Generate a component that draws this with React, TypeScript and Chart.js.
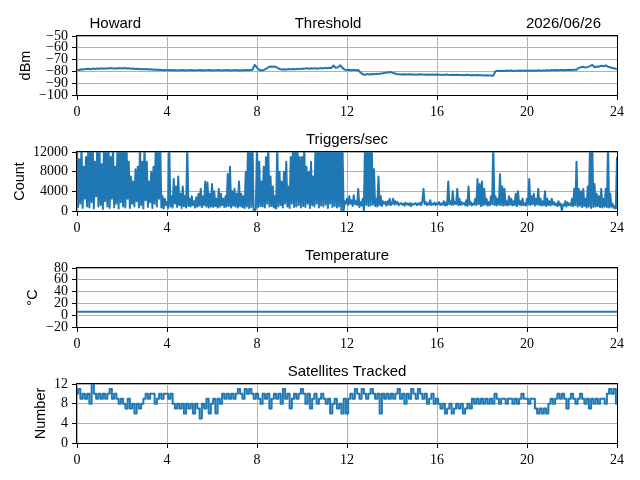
import { useEffect, useRef } from "react";
import { Chart, registerables, type ChartConfiguration, type Plugin } from "chart.js";

Chart.register(...registerables);

// hours of the day on every x axis
const HOURS = 24;
const hourStep = 4;

// Threshold, dBm, one value every 0.1 h
const thresholdDbm = [
  -78.5, -78.8, -78.2, -78.4, -78.0, -77.8, -78.1, -77.6, -77.9, -77.5,
  -77.7, -77.4, -77.8, -77.3, -77.6, -77.2, -77.5, -77.3, -77.6, -77.2,
  -77.5, -77.1, -77.6, -77.4, -77.8, -77.5, -77.9, -77.7, -78.1, -77.9,
  -78.2, -78.0, -78.4, -78.2, -78.6, -78.4, -78.8, -78.6, -79.0, -78.8,
  -79.0, -78.8, -79.1, -78.9, -79.2, -79.0, -79.1, -78.9, -79.2, -79.0,
  -79.1, -78.9, -79.2, -79.0, -79.1, -78.9, -79.2, -79.0, -79.1, -78.9,
  -79.2, -79.0, -79.1, -78.8, -79.2, -79.0, -79.1, -78.9, -79.2, -79.0,
  -79.1, -78.9, -79.2, -79.0, -79.1, -78.9, -79.0, -78.8, -78.6, -74.5,
  -76.8, -78.6, -79.2, -78.8, -77.8, -76.5, -75.8, -76.0, -75.9, -76.8,
  -78.0, -78.4, -78.2, -78.5, -78.0, -78.3, -77.9, -78.2, -77.8, -78.1,
  -77.5, -77.9, -77.2, -77.8, -77.4, -77.6, -77.3, -77.7, -77.2, -77.5,
  -77.0, -77.4, -76.9, -77.2, -75.0, -77.0, -76.5, -74.8, -77.0, -78.5,
  -78.8, -78.6, -79.0, -78.7, -79.0, -78.8, -81.0, -82.5, -82.8, -82.3,
  -82.6, -82.2, -82.5, -82.0, -82.3, -81.8, -81.6, -81.2, -81.0, -80.5,
  -81.0, -81.6, -82.2, -82.4, -82.6, -82.5, -82.7, -82.6, -82.5, -82.7,
  -82.6, -82.8, -82.5, -82.7, -82.6, -82.8, -82.7, -82.9, -82.6, -82.8,
  -82.7, -82.9, -82.8, -83.0, -82.7, -82.9, -83.0, -82.8, -83.1, -82.9,
  -83.1, -83.0, -83.2, -82.9, -83.1, -83.3, -83.0, -83.2, -83.1, -83.3,
  -83.2, -83.4, -83.3, -83.5, -83.4, -83.6, -79.8, -79.5, -79.7, -79.4,
  -79.6, -79.3, -79.5, -79.2, -79.6, -79.4, -79.5, -79.2, -79.5, -79.3,
  -79.4, -79.2, -79.5, -79.3, -79.4, -79.1, -79.4, -79.2, -79.3, -79.0,
  -79.2, -78.9, -79.1, -78.8, -79.0, -78.7, -79.0, -78.8, -78.9, -78.6,
  -78.8, -78.5, -78.7, -77.0, -76.5, -76.0, -76.8, -76.2, -75.5, -74.5,
  -76.5, -75.8, -76.0, -75.2, -75.6, -75.0, -76.0, -76.5, -77.2, -77.6,
  -78.0,
];

// Triggers per second, one value every 0.05 h (peaks run past the top of the axis)
const triggerCounts = [
  13500, 800, 10500, 1500, 13500, 600, 9000, 2500, 11000, 900, 13500, 700, 13500, 1800, 13500, 500, 10000, 3000, 13500, 900,
  13500, 1200, 9500, 400, 13500, 2000, 13500, 900, 13500, 600, 11000, 2500, 13500, 700, 9000, 1500, 13500, 500, 13500, 1800,
  13500, 900, 13500, 700, 13500, 2500, 10000, 600, 7000, 1500, 6000, 900, 8500, 2000, 9000, 700, 13500, 1200, 10000, 500,
  13500, 2200, 10000, 800, 6000, 1800, 8000, 600, 9000, 1500, 13500, 900, 13500, 2500, 13500, 700, 3000, 500, 2500, 1200,
  1800, 600, 13500, 900, 3000, 700, 6500, 1500, 5000, 800, 7000, 1200, 3500, 600, 5000, 1000, 3000, 700, 13500, 1000,
  2500, 900, 3000, 1200, 2000, 700, 2800, 900, 3500, 1100, 4500, 800, 3000, 1200, 6000, 900, 5800, 700, 3500, 900,
  5500, 800, 4000, 1000, 2500, 700, 4500, 900, 3500, 1200, 2500, 800, 3000, 900, 7500, 1000, 9000, 700, 4000, 1100,
  4500, 900, 3500, 700, 6000, 1000, 3500, 800, 3000, 600, 8000, 900, 13500, 600, 13500, 800, 13500, 200, 0, 600,
  13500, 800, 10000, 1000, 6000, 900, 9000, 700, 11000, 1500, 13500, 900, 7000, 1000, 5000, 700, 3000, 500, 13500, 900,
  8000, 1200, 6000, 700, 8000, 1500, 10000, 900, 5000, 600, 11000, 1500, 13500, 800, 13500, 900, 13500, 1200, 11000, 700,
  11000, 1000, 13500, 800, 9000, 1500, 8000, 600, 10000, 1200, 7000, 900, 13500, 1500, 13500, 700, 13500, 1100, 13500, 900,
  13500, 1300, 13500, 600, 13500, 1500, 13500, 800, 13500, 1000, 13500, 700, 13500, 900, 13500, 0, 13500, 0, 2000, 1500,
  2500, 1200, 3000, 1500, 2200, 1000, 3200, 1400, 2000, 1200, 4500, 800, 1800, 1100, 2500, 0, 13500, 1200, 13500, 1000,
  13500, 1100, 13500, 1300, 8500, 1000, 2500, 900, 7000, 1200, 3000, 1000, 2000, 1500, 1800, 1100, 2000, 1300, 2500, 1200,
  1500, 2500, 1300, 2000, 1400, 1800, 1200, 1500, 1600, 1300, 1500, 1100, 1700, 1300, 1500, 1200, 1600, 1000, 1500, 1300,
  1400, 1600, 1200, 1500, 1300, 1700, 1200, 2000, 4500, 1400, 1800, 1200, 1600, 1300, 2200, 1200, 1500, 1300, 1700, 1200,
  1600, 1400, 1800, 1200, 1500, 1300, 2000, 1100, 1700, 1200, 6000, 1400, 2000, 1200, 4000, 1300, 1800, 1400, 4500, 1200,
  2500, 1200, 1800, 1400, 1600, 1200, 2200, 1000, 5000, 1300, 1800, 1100, 1500, 1300, 2500, 1200, 6500, 1400, 5500, 1000,
  6000, 1200, 4500, 1300, 2500, 1100, 1800, 1200, 3000, 1400, 13500, 1200, 3000, 1100, 2500, 1300, 7500, 1200, 5000, 1100,
  4500, 1200, 2000, 1100, 3000, 1300, 2500, 1100, 2000, 1200, 3500, 1000, 4000, 1300, 2000, 1100, 2500, 1200, 1500, 1100,
  2500, 1300, 6500, 1200, 3000, 1400, 3500, 1100, 2500, 1300, 4500, 1200, 2500, 1100, 2000, 1200, 4000, 1000, 2500, 1200,
  2000, 1100, 2500, 1300, 1800, 1200, 1500, 1000, 2000, 1100, 1500, 0, 1300, 1100, 2000, 900, 1800, 1200, 1500, 1100,
  2500, 1000, 4500, 1200, 10000, 900, 4500, 1100, 4000, 800, 4500, 1000, 2500, 700, 5000, 900, 13500, 600, 13500, 800,
  5500, 900, 3500, 1000, 3000, 800, 4500, 700, 2500, 900, 4500, 800, 13500, 700, 3500, 900, 1500, 600, 1000, 500,
  11000,
];

// Temperature, deg C, hourly
const temperatureC = [
  6, 6, 6, 6, 6, 6, 6, 6, 6, 6, 6, 6, 6, 6, 6, 6, 6, 6, 6, 6, 6, 6, 6, 6, 6,
];

// Satellites tracked, one value every 0.1 h
const satellitesTracked = [
  10, 11, 9, 10, 9, 10, 8, 12, 10, 9,
  10, 9, 10, 9, 10, 11, 9, 10, 9, 8,
  9, 8, 7, 9, 7, 8, 6, 8, 7, 8,
  9, 10, 9, 10, 10, 8, 9, 10, 9, 10,
  10, 9, 10, 8, 7, 8, 7, 8, 6, 8,
  7, 8, 6, 8, 7, 5, 8, 7, 9, 6,
  8, 9, 6, 9, 8, 10, 9, 10, 9, 10,
  9, 10, 11, 10, 9, 11, 10, 11, 10, 9,
  10, 9, 8, 10, 9, 10, 7, 9, 10, 9,
  10, 8, 11, 9, 10, 7, 9, 10, 9, 10,
  11, 10, 8, 10, 7, 9, 10, 8, 9, 10,
  9, 8, 9, 6, 8, 9, 7, 8, 6, 9,
  6, 9, 10, 9, 11, 10, 9, 11, 10, 9,
  10, 11, 10, 9, 10, 6, 10, 9, 10, 9,
  10, 9, 10, 11, 9, 10, 8, 10, 9, 11,
  10, 9, 11, 10, 9, 10, 8, 9, 10, 8,
  9, 8, 7, 8, 6, 7, 8, 6, 7, 8,
  7, 8, 6, 7, 8, 7, 9, 8, 9, 8,
  9, 8, 9, 8, 9, 8, 10, 9, 8, 9,
  9, 8, 9, 9, 8, 9, 8, 9, 10, 9,
  9, 8, 9, 9, 7, 6, 7, 6, 7, 6,
  8, 9, 8, 9, 10, 9, 10, 9, 7, 9,
  10, 9, 8, 9, 10, 9, 8, 9, 7, 9,
  8, 9, 8, 9, 9, 8, 10, 11, 10, 11,
  8,
];

type PanelSpec = {
  values: number[];
  yMin: number;
  yMax: number;
  yStep: number;
  ylabel: string;
  title: string;
  titleShift?: number;
  leftNote?: string;
  rightNote?: string;
  stepped?: boolean;
};

const PANELS: PanelSpec[] = [
  { values: thresholdDbm, yMin: -100, yMax: -50, yStep: 10, ylabel: "dBm", title: "Threshold", titleShift: -19, leftNote: "Howard", rightNote: "2026/06/26" },
  { values: triggerCounts, yMin: 0, yMax: 12000, yStep: 4000, ylabel: "Count", title: "Triggers/sec" },
  { values: temperatureC, yMin: -20, yMax: 80, yStep: 20, ylabel: "\u00b0C", title: "Temperature" },
  { values: satellitesTracked, yMin: 0, yMax: 12, yStep: 4, ylabel: "Number", title: "Satellites Tracked", stepped: true },
];

const PANEL_W = 640;
const PANEL_H = 116;
const PLOT_LEFT = 77;
const PLOT_TOP = 36;
const PLOT_H = 59;
const PLOT_RIGHT_PAD = 23;
const TICK_LEN = 5;
const TICK_PAD = 4;

const TICK_FONT = { family: "'Liberation Serif', 'DejaVu Serif', serif", size: 14 };
const TICK_FONT_CSS = "14px 'Liberation Serif', 'DejaVu Serif', serif";
const TITLE_FONT_CSS = "15px 'Liberation Sans', 'DejaVu Sans', sans-serif";
const LABEL_FONT_CSS = "14.5px 'Liberation Sans', 'DejaVu Sans', sans-serif";

const fmt = (v: number | string) => {
  const n = Number(v);
  return n < 0 ? "\u2212" + Math.abs(n) : String(n);
};

// frame, titles and the rotated y label, placed the way matplotlib does it
function panelTextPlugin(spec: PanelSpec): Plugin<"line"> {
  return {
    id: "panelText",
    afterDraw(chart) {
      const { ctx, chartArea } = chart;
      const { left, right, top, bottom } = chartArea;
      ctx.save();
      ctx.strokeStyle = "#000";
      ctx.lineWidth = 1;
      ctx.strokeRect(Math.round(left) - 0.5, Math.round(top) - 0.5, Math.round(right - left) + 1, Math.round(bottom - top) + 1);

      ctx.fillStyle = "#000";
      ctx.font = TITLE_FONT_CSS;
      ctx.textBaseline = "alphabetic";
      const baseY = top - 8.5;
      ctx.textAlign = "center";
      ctx.fillText(spec.title, (left + right) / 2 + (spec.titleShift ?? 0), baseY);
      if (spec.leftNote) {
        ctx.textAlign = "left";
        ctx.fillText(spec.leftNote, left + 12.5, baseY);
      }
      if (spec.rightNote) {
        ctx.textAlign = "right";
        ctx.fillText(spec.rightNote, right - 16, baseY);
      }

      ctx.font = TICK_FONT_CSS;
      const yTicks = chart.scales.y.ticks;
      const widest = Math.max(...yTicks.map((t) => ctx.measureText(String(t.label)).width));
      const x = left - TICK_LEN - TICK_PAD - widest - 9;
      ctx.font = LABEL_FONT_CSS;
      ctx.translate(x, (top + bottom) / 2);
      ctx.rotate(-Math.PI / 2);
      ctx.textAlign = "center";
      ctx.fillText(spec.ylabel, 0, 0);
      ctx.restore();
    },
  };
}

function Panel({ spec, top }: { spec: PanelSpec; top: number }) {
  const canvasRef = useRef<HTMLCanvasElement>(null);

  useEffect(() => {
    const canvas = canvasRef.current;
    if (!canvas) return;
    const n = spec.values.length;
    const points = spec.values.map((y, i) => ({ x: (i * HOURS) / (n - 1), y }));
    const grid = {
      color: "#b0b0b0",
      lineWidth: 1,
      tickLength: TICK_LEN,
      tickColor: "#000",
      tickWidth: 1,
    };
    const config: ChartConfiguration<"line"> = {
      type: "line",
      data: {
        datasets: [
          {
            data: points,
            borderColor: "#1f77b4",
            borderWidth: 2,
            pointRadius: 0,
            tension: 0,
            fill: false,
            stepped: spec.stepped ? "middle" : false,
            borderJoinStyle: "round",
            clip: 0,
          },
        ],
      },
      options: {
        animation: false,
        responsive: false,
        events: [],
        layout: { padding: { top: PLOT_TOP, right: PLOT_RIGHT_PAD, left: 0, bottom: 0 } },
        plugins: { legend: { display: false }, tooltip: { enabled: false } },
        scales: {
          x: {
            type: "linear",
            min: 0,
            max: HOURS,
            ticks: { stepSize: hourStep, color: "#000", font: TICK_FONT, padding: TICK_PAD, maxRotation: 0, autoSkip: false, callback: fmt },
            grid,
            border: { display: false },
            afterFit: (scale) => {
              scale.height = PANEL_H - PLOT_TOP - PLOT_H;
            },
          },
          y: {
            type: "linear",
            min: spec.yMin,
            max: spec.yMax,
            ticks: { stepSize: spec.yStep, color: "#000", font: TICK_FONT, padding: TICK_PAD, autoSkip: false, callback: fmt },
            grid,
            border: { display: false },
            afterFit: (scale) => {
              scale.width = PLOT_LEFT;
            },
          },
        },
      },
      plugins: [panelTextPlugin(spec)],
    };
    const chart = new Chart(canvas, config);
    return () => chart.destroy();
  }, [spec]);

  return (
    <canvas
      ref={canvasRef}
      width={PANEL_W}
      height={PANEL_H}
      style={{ position: "absolute", left: 0, top, display: "block" }}
    />
  );
}

export default function App() {
  return (
    <div style={{ position: "fixed", left: 0, top: 0, width: 640, height: 480, background: "#fff" }}>
      {PANELS.map((p, i) => (
        <Panel key={p.title} spec={p} top={i * PANEL_H} />
      ))}
    </div>
  );
}
